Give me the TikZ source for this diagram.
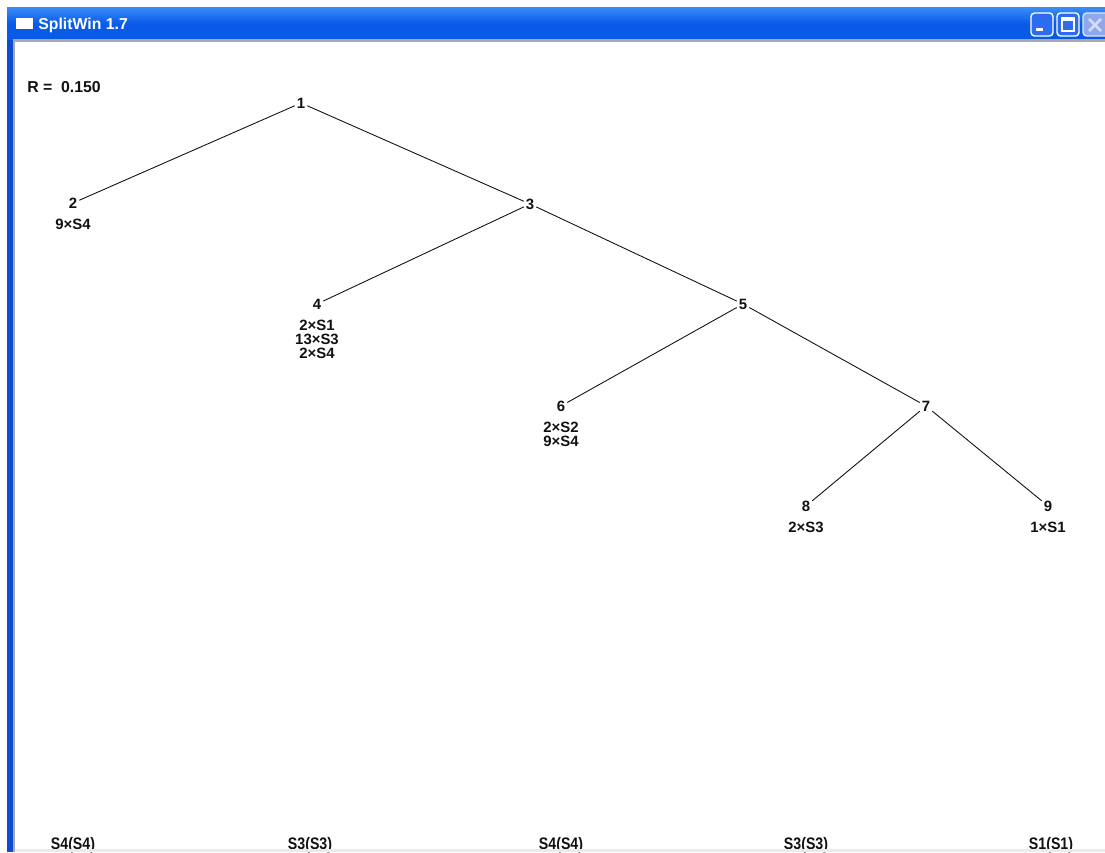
\documentclass[tikz,border=0pt]{standalone}
\usepackage{fontspec}
\setmainfont{Liberation Sans}
\usepackage{xcolor}
\definecolor{xpblue}{HTML}{0A5AE8}
\definecolor{xplight}{HTML}{3B8DF8}
\definecolor{xpedge}{HTML}{0B4BD6}
\definecolor{btnblue}{HTML}{2D6CF0}
\definecolor{btnfade}{HTML}{8FA8EC}
\definecolor{frame}{HTML}{A9A9A9}
\definecolor{floor}{HTML}{ECEBE6}
\definecolor{ink}{HTML}{111111}
\usepackage{tikz}
\usetikzlibrary{positioning}

\begin{document}
\begin{tikzpicture}[x=0.02cm,y=-0.02cm,
    num/.style={font=\fontsize{8.5}{8}\selectfont\bfseries,inner sep=1pt,text=ink},
    counts/.style={font=\fontsize{8.5}{7.9}\selectfont\bfseries,inner sep=0pt,align=center,text=ink},
    leafname/.style={font=\fontsize{9.5}{10}\selectfont\bfseries,inner sep=0pt,anchor=base,text=ink},
    branch/.style={ink,line width=0.5pt},
    winbtn/.style={draw=white,line width=0.8pt,rounded corners=2pt,fill=btnblue}]
  \useasboundingbox (0,0) rectangle (1105,852);
  \fill[white] (0,0) rectangle (1105,852);
  % title bar
  \shade[top color=xplight,bottom color=xpblue,middle color=xpblue] (7,7) rectangle (1105,40);
  \fill[frame] (13,39) rectangle (1105,42);
  \fill[white] (16,18) rectangle (33,29);
  \node[font=\fontsize{9}{10}\selectfont\bfseries,text=white,anchor=west,inner sep=0pt] (title) at (38,25) {SplitWin 1.7};
  % window buttons
  \draw[winbtn] (1031,13) rectangle (1053,36);
  \fill[white] (1036,28) rectangle (1043,31);
  \draw[winbtn] (1057,13) rectangle (1079,36);
  \draw[white,line width=0.8pt] (1062,18) rectangle (1074,31);
  \fill[white] (1062,18) rectangle (1074,21);
  \draw[winbtn,fill=btnfade,draw=white!70!btnfade] (1083,13) rectangle (1110,36);
  \draw[white!60!btnfade,line width=1.5pt] (1089,19) -- (1101,31) (1101,19) -- (1089,31);
  % left edge
  \fill[xpedge] (7,40) rectangle (13,852);
  \fill[frame] (13,40) rectangle (15,852);
  % ratio
  \node[font=\fontsize{9}{10}\selectfont\bfseries,text=ink,anchor=west,inner sep=0pt] (rval) at (27,87) {R = \ 0.150};
  % tree
  \node[num] (n1) at (301,103) {1};
  \node[num] (n2) at (73,203) {2};
  \node[num] (n3) at (530,204) {3};
  \node[num] (n4) at (317,304) {4};
  \node[num] (n5) at (743,304) {5};
  \node[num] (n6) at (561,406) {6};
  \node[num] (n7) at (926,406) {7};
  \node[num] (n8) at (806,506) {8};
  \node[num] (n9) at (1048,506) {9};
  \draw[branch] (n1) -- (n2);
  \draw[branch] (n1) -- (n3);
  \draw[branch] (n3) -- (n4);
  \draw[branch] (n3) -- (n5);
  \draw[branch] (n5) -- (n6);
  \draw[branch] (n5) -- (n7);
  \draw[branch] (n7) -- (n8);
  \draw[branch] (n7) -- (n9);
  % leaf contents
  \node[counts,below=5pt of n2] (c2) {9×S4};
  \node[counts,below=5pt of n4] (c4) {2×S1\\13×S3\\2×S4};
  \node[counts,below=5pt of n6] (c6) {2×S2\\9×S4};
  \node[counts,below=5pt of n8] (c8) {2×S3};
  \node[counts,below=5pt of n9] (c9) {1×S1};
  % class labels
  \node[leafname] (l2) at (73,849) {\scalebox{0.85}[1]{S4(S4)}};
  \node[leafname] (l4) at (310,849) {\scalebox{0.85}[1]{S3(S3)}};
  \node[leafname] (l6) at (561,849) {\scalebox{0.85}[1]{S4(S4)}};
  \node[leafname] (l8) at (806,849) {\scalebox{0.85}[1]{S3(S3)}};
  \node[leafname] (l9) at (1051,849) {\scalebox{0.85}[1]{S1(S1)}};
  \fill[floor] (15,848.5) rectangle (1105,852);
\end{tikzpicture}
\end{document}
